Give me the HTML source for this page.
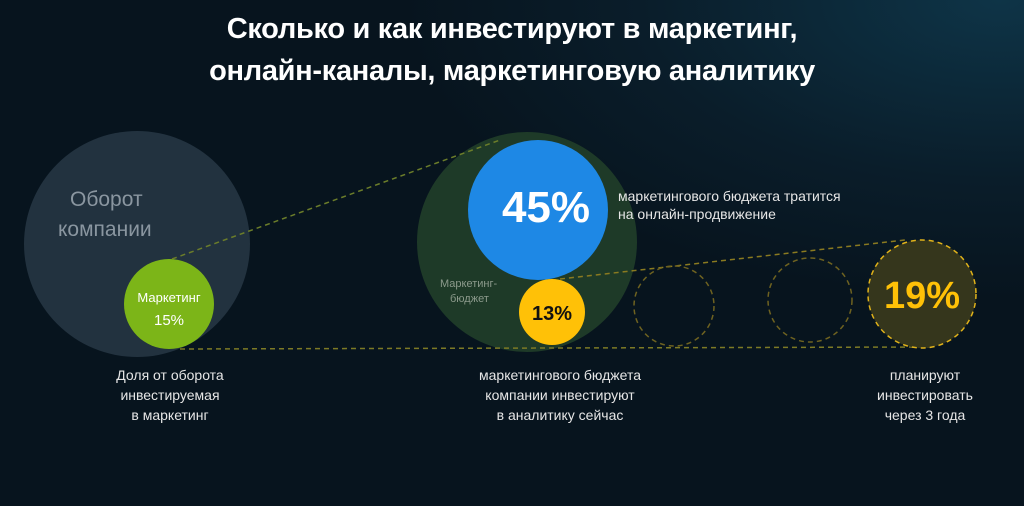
<!DOCTYPE html>
<html><head><meta charset="utf-8"><style>
body{margin:0;width:1024px;height:506px;overflow:hidden;background:radial-gradient(ellipse 600px 300px at 1000px 0px,#0e3447 0%,#0a1d2a 60%,#07141e 100%);font-family:"Liberation Sans",sans-serif;}
.t{position:absolute;left:0;width:1024px;text-align:center;color:#fff;font-weight:bold;font-size:29px;line-height:42px;top:8px;letter-spacing:-0.3px}
.l{position:absolute;color:#e6e6e6;font-size:14px;line-height:20px;text-align:center}
</style></head><body>
<svg width="1024" height="506" style="position:absolute;left:0;top:0">
<circle cx="137" cy="244" r="113" fill="#22323f"/>
<circle cx="527" cy="242" r="110" fill="#1e3a28"/>
<circle cx="538" cy="210" r="70" fill="#1e88e5"/>
<circle cx="169" cy="304" r="45" fill="#7cb518"/>
<circle cx="552" cy="312" r="33" fill="#ffc107"/>
<g fill="none" stroke-dasharray="5,4" stroke-width="1.5">
<line x1="172" y1="259" x2="500" y2="140" stroke="#6b7d2a"/>
<line x1="180" y1="349" x2="930" y2="347" stroke="#7d7a25"/>
<line x1="560" y1="279" x2="905" y2="240" stroke="#8a7a20"/>
<circle cx="674" cy="306" r="40" stroke="#6e6220"/>
<circle cx="810" cy="300" r="42" stroke="#6e6220"/>
<circle cx="922" cy="294" r="54" fill="#35361c" stroke="#e0b21a"/>
</g>
<text x="70" y="206" fill="#8a96a0" font-size="21" font-family="Liberation Sans">Оборот</text>
<text x="58" y="236" fill="#8a96a0" font-size="21" font-family="Liberation Sans">компании</text>
<text x="169" y="302" fill="#fff" font-size="13" text-anchor="middle" font-family="Liberation Sans">Маркетинг</text>
<text x="169" y="325" fill="#fff" font-size="15" text-anchor="middle" font-family="Liberation Sans">15%</text>
<text x="546" y="222" fill="#fff" font-size="44" font-weight="bold" text-anchor="middle" font-family="Liberation Sans">45%</text>
<text x="552" y="320" fill="#111" font-size="20" font-weight="bold" text-anchor="middle" font-family="Liberation Sans">13%</text>
<text x="922" y="308" fill="#ffc107" font-size="38" font-weight="bold" text-anchor="middle" font-family="Liberation Sans">19%</text>
<text x="440" y="287" fill="#8c9a8c" font-size="11" font-family="Liberation Sans">Маркетинг-</text>
<text x="450" y="302" fill="#8c9a8c" font-size="11" font-family="Liberation Sans">бюджет</text>
<text x="618" y="201" fill="#e6e6e6" font-size="14" font-family="Liberation Sans">маркетингового бюджета тратится</text>
<text x="618" y="219" fill="#e6e6e6" font-size="14" font-family="Liberation Sans">на онлайн-продвижение</text>
</svg>
<div class="t">Сколько и как инвестируют в маркетинг,<br>онлайн-каналы, маркетинговую аналитику</div>
<div class="l" style="left:90px;width:160px;top:365px">Доля от оборота<br>инвестируемая<br>в маркетинг</div>
<div class="l" style="left:440px;width:240px;top:365px">маркетингового бюджета<br>компании инвестируют<br>в аналитику сейчас</div>
<div class="l" style="left:850px;width:150px;top:365px">планируют<br>инвестировать<br>через 3 года</div>
</body></html>
